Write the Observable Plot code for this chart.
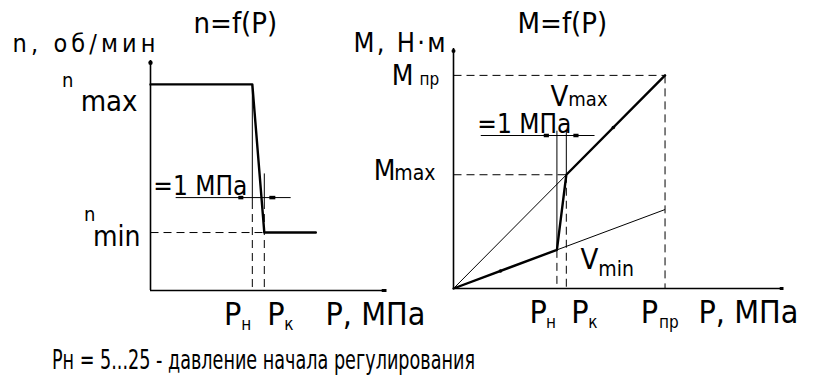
<!DOCTYPE html>
<html>
<head>
<meta charset="utf-8">
<script src="https://cdn.jsdelivr.net/npm/d3@7"></script>
<script src="https://cdn.jsdelivr.net/npm/@observablehq/plot@0.6"></script>
<style>
  html, body { margin: 0; padding: 0; background: #fff; }
  #fig { position: relative; width: 821px; height: 380px; overflow: hidden; background: #fff; }
  #fig svg { position: absolute; top: 0; }
  #caption {
    position: absolute; left: 52px; top: 346px; margin: 0;
    font-family: "DejaVu Sans Condensed", "DejaVu Sans", sans-serif;
    font-size: 27px; line-height: 1; white-space: nowrap; color: #000;
    transform-origin: 0 0;
  }
</style>
</head>
<body>
<div id="fig"><p id="caption">Рн = 5...25 - давление начала регулирования</p></div>
<script>
const FONT = '"DejaVu Sans Condensed", "DejaVu Sans", sans-serif';

// n = f(P): shaft speed against pressure (schematic units)
const speedP = [0, 8.5, 9.5, 13.8];        // 0, Pн, Pк, end of the lower branch
const speedN = [89.6, 89.6, 25.2, 25.2];   // nmax, nmax, nmin, nmin
const speedDomainP = [0, 19.7];
const speedDim = 40.4;                      // level of the "=1 МПа" dimension line
const speedDimSpan = [2.1, 11.7];
const speedPLabels = ["н", "к"];

// M = f(P): torque against pressure (schematic units)
const torqueP = [0, 11, 12, 22.5];          // 0, Pн, Pк, Pпр
const torqueM = [0, 16.1, 47.4, 88.8];      // regulated characteristic
const vMaxEnd = 88.8;                       // Vmax line at Pпр
const vMinEnd = 32.9;                       // Vmin line at Pпр
const torqueDomainP = [0, 35.1];
const torqueDim = 63.75;
const torqueDimSpan = [2.9, 15.0];
const torquePLabels = ["н", "к", "пр"];
const flowMarksP = [5.0, 17.0];             // direction marks on the working line

const DASH = "8,5";

const seg = (x1, y1, x2, y2) => ({x1, y1, x2, y2});
const links = (segs, o = {}) =>
  Plot.link(segs, {x1: "x1", y1: "y1", x2: "x2", y2: "y2", stroke: "black", ...o});
const label = (t, o) =>
  Plot.text([t], {text: d => d, fill: "black", fontFamily: FONT, ...o});
const at = v => () => v;

// ---------- left chart: n = f(P) ----------
const sPн = speedP[1], sPк = speedP[2];
const nMax = speedN[0], nMin = speedN[2];

const left = Plot.plot({
  width: 430, height: 340,
  marginLeft: 150, marginRight: 44, marginTop: 60, marginBottom: 50,
  x: {domain: speedDomainP, axis: null},
  y: {domain: [0, 100], axis: null},
  style: {background: "transparent", overflow: "visible"},
  marks: [
    Plot.ruleX([0], {strokeWidth: 1.6}),
    Plot.ruleY([0], {strokeWidth: 1.6}),
    Plot.dot([0], {x: at(0), y: at(99), r: 2.2, fill: "black", stroke: null}),
    links([seg(speedDomainP[1] - 0.4, 0, speedDomainP[1], 0)], {strokeWidth: 3}),
    // guide lines
    links([seg(0, nMin, sPк, nMin), seg(sPн, speedDim - 1.5, sPн, 0), seg(sPк, speedDim - 1.5, sPк, 0)],
      {strokeWidth: 1, strokeDasharray: DASH}),
    links([seg(sPн, nMax, sPн, speedDim - 1.5), seg(sPк, 50.9, sPк, speedDim - 1.5)], {strokeWidth: 1}),
    // dimension line with its arrow marks
    links([seg(speedDimSpan[0], speedDim, speedDimSpan[1], speedDim)], {strokeWidth: 1}),
    links([seg(sPн - 1.17, speedDim, sPн - 0.75, speedDim), seg(sPк + 0.42, speedDim, sPк + 0.92, speedDim)],
      {strokeWidth: 3.5}),
    // characteristic
    Plot.line(speedP.map((p, i) => ({p, n: speedN[i]})), {x: "p", y: "n", strokeWidth: 2.4, stroke: "black"}),
    // texts
    label("n, об/мин", {frameAnchor: "top-left", dx: -138, dy: -9, textAnchor: "start", lineAnchor: "bottom", fontSize: 25}),
    label("n=f(P)", {frameAnchor: "top-left", dx: 43, dy: -28, textAnchor: "start", lineAnchor: "bottom", fontSize: 29}),
    label("n", {x: at(0), y: at(nMax), dx: -77, dy: 3, textAnchor: "end", lineAnchor: "bottom", fontSize: 20}),
    label("max", {x: at(0), y: at(nMax), dx: -13, dy: 27, textAnchor: "end", lineAnchor: "bottom", fontSize: 29}),
    label("n", {x: at(0), y: at(nMin), dx: -55, dy: -12, textAnchor: "end", lineAnchor: "bottom", fontSize: 20}),
    label("min", {x: at(0), y: at(nMin), dx: -10, dy: 13, textAnchor: "end", lineAnchor: "bottom", fontSize: 28}),
    label("=1 МПа", {x: at(sPн), y: at(speedDim), dx: -5, dy: -3, textAnchor: "end", lineAnchor: "bottom", fontSize: 26}),
    label("P", {x: at(sPн), y: at(0), dx: -11, dy: 34, textAnchor: "end", lineAnchor: "bottom", fontSize: 32}),
    label(speedPLabels[0], {x: at(sPн), y: at(0), dx: -1, dy: 39, textAnchor: "end", lineAnchor: "bottom", fontSize: 17}),
    label("P", {x: at(sPк), y: at(0), dx: 3, dy: 34, textAnchor: "start", lineAnchor: "bottom", fontSize: 32}),
    label(speedPLabels[1], {x: at(sPк), y: at(0), dx: 20, dy: 39, textAnchor: "start", lineAnchor: "bottom", fontSize: 17}),
    label("P, МПа", {x: at(speedDomainP[1]), y: at(0), dx: -61, dy: 34, textAnchor: "start", lineAnchor: "bottom", fontSize: 32})
  ]
});
left.style.left = "0px";

// ---------- right chart: M = f(P) ----------
const tPн = torqueP[1], tPк = torqueP[2], tPпр = torqueP[3];
const mMax = torqueM[2], mПр = torqueM[3];

const right = Plot.plot({
  width: 481, height: 340,
  marginLeft: 113, marginRight: 38, marginTop: 48, marginBottom: 52,
  x: {domain: torqueDomainP, axis: null},
  y: {domain: [0, 100], axis: null},
  style: {background: "transparent", overflow: "visible"},
  marks: [
    Plot.ruleX([0], {strokeWidth: 1.6}),
    Plot.ruleY([0], {strokeWidth: 1.6}),
    Plot.dot([0], {x: at(0), y: at(99), r: 2, fill: "black", stroke: null}),
    links([seg(torqueDomainP[1] - 0.4, 0, torqueDomainP[1], 0)], {strokeWidth: 3}),
    // guide lines
    links([
      seg(0, mПр, tPпр, mПр), seg(tPпр, mПр, tPпр, 0), seg(0, mMax, tPк, mMax),
      seg(tPн, torqueM[1], tPн, 0), seg(tPк, mMax, tPк, 0)
    ], {strokeWidth: 1, strokeDasharray: DASH}),
    links([seg(tPн, torqueDim + 2, tPн, torqueM[1]), seg(tPк, torqueDim + 2, tPк, mMax)], {strokeWidth: 1}),
    // Vmax and Vmin lines
    links([seg(0, 0, tPпр, vMaxEnd), seg(0, 0, tPпр, vMinEnd)], {strokeWidth: 1}),
    // dimension line with its arrow marks
    links([seg(torqueDimSpan[0], torqueDim, torqueDimSpan[1], torqueDim)], {strokeWidth: 1}),
    links([seg(tPн - 1.4, torqueDim, tPн - 0.85, torqueDim), seg(tPк + 0.75, torqueDim, tPк + 1.3, torqueDim)],
      {strokeWidth: 3.5}),
    // regulated characteristic
    Plot.line(torqueP.map((p, i) => ({p, m: torqueM[i]})), {x: "p", y: "m", strokeWidth: 2.4, stroke: "black"}),
    Plot.dot(flowMarksP, {x: d => d, y: d => d < tPн ? d * vMinEnd / tPпр : d * vMaxEnd / tPпр, r: 1.8, fill: "black", stroke: null}),
    // texts
    label("M, Н·м", {frameAnchor: "top-left", dx: -100, dy: 3, textAnchor: "start", lineAnchor: "bottom", fontSize: 27}),
    label("M=f(P)", {frameAnchor: "top-left", dx: 64, dy: -16, textAnchor: "start", lineAnchor: "bottom", fontSize: 29}),
    label("M", {x: at(0), y: at(mПр), dx: -40, dy: 10, textAnchor: "end", lineAnchor: "bottom", fontSize: 28}),
    label("пр", {x: at(0), y: at(mПр), dx: -34, dy: 10, textAnchor: "start", lineAnchor: "bottom", fontSize: 17}),
    label("M", {x: at(0), y: at(mMax), dx: -58, dy: 5, textAnchor: "end", lineAnchor: "bottom", fontSize: 28}),
    label("max", {x: at(0), y: at(mMax), dx: -18, dy: 5, textAnchor: "end", lineAnchor: "bottom", fontSize: 21}),
    label("=1 МПа", {x: at(tPк), y: at(torqueDim), dx: 5, dy: -3, textAnchor: "end", lineAnchor: "bottom", fontSize: 26}),
    label("V", {x: at(tPк), y: at(torqueDim), dx: 2, dy: -30, textAnchor: "end", lineAnchor: "bottom", fontSize: 29}),
    label("max", {x: at(tPк), y: at(torqueDim), dx: 2, dy: -30, textAnchor: "start", lineAnchor: "bottom", fontSize: 20}),
    label("V", {x: at(tPк), y: at(0), dx: 32, dy: -20, textAnchor: "end", lineAnchor: "bottom", fontSize: 29}),
    label("min", {x: at(tPк), y: at(0), dx: 32, dy: -13, textAnchor: "start", lineAnchor: "bottom", fontSize: 21}),
    label("P", {x: at(tPн), y: at(0), dx: -10, dy: 34, textAnchor: "end", lineAnchor: "bottom", fontSize: 32}),
    label(torquePLabels[0], {x: at(tPн), y: at(0), dx: -1, dy: 39, textAnchor: "end", lineAnchor: "bottom", fontSize: 17}),
    label("P", {x: at(tPк), y: at(0), dx: 5, dy: 34, textAnchor: "start", lineAnchor: "bottom", fontSize: 32}),
    label(torquePLabels[1], {x: at(tPк), y: at(0), dx: 22, dy: 39, textAnchor: "start", lineAnchor: "bottom", fontSize: 17}),
    label("P", {x: at(tPпр), y: at(0), dx: -7, dy: 34, textAnchor: "end", lineAnchor: "bottom", fontSize: 32}),
    label(torquePLabels[2], {x: at(tPпр), y: at(0), dx: -6, dy: 39, textAnchor: "start", lineAnchor: "bottom", fontSize: 17}),
    label("P, МПа", {x: at(torqueDomainP[1]), y: at(0), dx: -85, dy: 34, textAnchor: "start", lineAnchor: "bottom", fontSize: 32})
  ]
});
right.style.left = "340px";

const fig = document.getElementById("fig");
fig.appendChild(left);
fig.appendChild(right);

// spread the axis names over their full line length
const spread = (svg, str, len) =>
  d3.select(svg).selectAll("text").filter(function () { return this.textContent === str; })
    .attr("textLength", len).attr("lengthAdjust", "spacing");
spread(left, "n, об/мин", 143);
spread(right, "M, Н·м", 92);

// squeeze the caption into its line width
const cap = document.getElementById("caption");
const w = cap.getBoundingClientRect().width;
cap.style.transform = `scaleX(${423 / w})`;
</script>
</body>
</html>
